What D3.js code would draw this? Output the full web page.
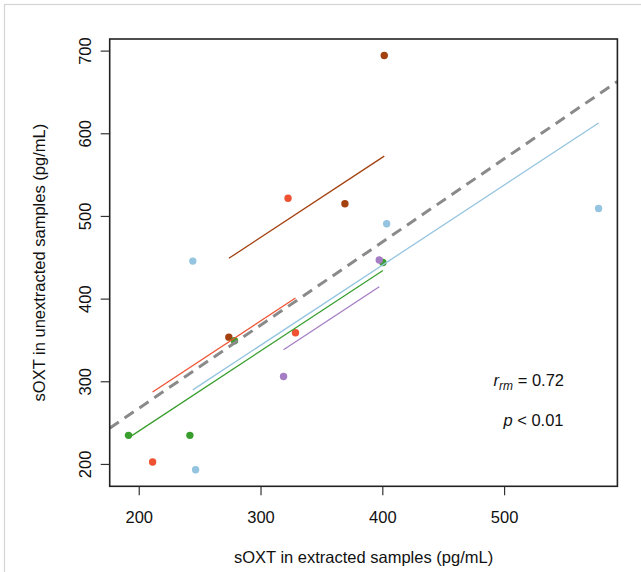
<!DOCTYPE html>
<html>
<head>
<meta charset="utf-8">
<script src="https://cdn.jsdelivr.net/npm/d3@7"></script>
<style>
  body { margin: 0; background: #fff; }
  svg { display: block; font-family: "Liberation Sans", Arial, sans-serif; }
</style>
</head>
<body>
<svg id="chart" width="641" height="572"></svg>
<script>
// one entry per sample: which subject, extracted value, unextracted value
var subject     = ["A", "A", "A", "B", "B", "B", "C", "C", "C", "C", "D", "D", "D", "D", "E", "E"];
var extracted   = [401.6, 369.3, 274.0, 322.6, 328.7, 211.4, 244.4, 246.7, 403.6, 577.6, 191.6, 242.0, 278.6, 400.5, 318.9, 397.5];
var unextracted = [694.0, 514.8, 353.4, 521.4, 358.7, 202.3, 445.4, 193.0, 490.5, 509.0, 234.6, 234.6, 349.1, 443.6, 305.7, 446.7];

var subjectIds    = ["A", "B", "C", "D", "E"];
var subjectColors = ["#a3410f", "#ee5232", "#94c4df", "#3a9e2f", "#a47dc4"];

var xTicks = [200, 300, 400, 500];
var yTicks = [200, 300, 400, 500, 600, 700];

var rrmValue = "0.72";
var pText = "< 0.01";

var svg = d3.select("#chart");
var plotLeft = 109.7, plotRight = 617.4, plotTop = 39, plotBottom = 486.3;

var points = extracted.map(function(x, i) {
  return { s: subject[i], x: x, y: unextracted[i] };
});

// R-style axis range: data extent padded by 4% each side
function padded(ext) {
  var p = (ext[1] - ext[0]) * 0.04;
  return [ext[0] - p, ext[1] + p];
}

var x = d3.scaleLinear().domain(padded(d3.extent(extracted))).range([plotLeft, plotRight]);
var y = d3.scaleLinear().domain(padded(d3.extent(unextracted))).range([plotBottom, plotTop]);
var color = d3.scaleOrdinal().domain(subjectIds).range(subjectColors);

// outer light frame of the figure
svg.append("rect")
  .attr("x", 4.5).attr("y", 4.5)
  .attr("width", 800).attr("height", 800)
  .attr("fill", "none")
  .attr("stroke", "#d4d4d4")
  .attr("stroke-width", 1.2);

svg.append("clipPath").attr("id", "plotclip")
  .append("rect")
  .attr("x", plotLeft).attr("y", plotTop)
  .attr("width", plotRight - plotLeft).attr("height", plotBottom - plotTop);

// repeated measures correlation: common slope, one line per subject
var groups = d3.groups(points, function(d) { return d.s; });
var sxy = 0, sxx = 0;
groups.forEach(function(g) {
  var mx = d3.mean(g[1], function(d) { return d.x; });
  var my = d3.mean(g[1], function(d) { return d.y; });
  g.mx = mx; g.my = my;
  g[1].forEach(function(d) {
    sxy += (d.x - mx) * (d.y - my);
    sxx += (d.x - mx) * (d.x - mx);
  });
});
var rmSlope = sxy / sxx;

var segs = groups.map(function(g) {
  var ext = d3.extent(g[1], function(d) { return d.x; });
  return {
    s: g[0],
    x1: ext[0], y1: g.my + rmSlope * (ext[0] - g.mx),
    x2: ext[1], y2: g.my + rmSlope * (ext[1] - g.mx)
  };
});

// pooled least squares line
var mxAll = d3.mean(points, function(d) { return d.x; });
var myAll = d3.mean(points, function(d) { return d.y; });
var b = d3.sum(points, function(d) { return (d.x - mxAll) * (d.y - myAll); }) /
        d3.sum(points, function(d) { return (d.x - mxAll) * (d.x - mxAll); });
var a = myAll - b * mxAll;

var plot = svg.append("g").attr("clip-path", "url(#plotclip)");

plot.selectAll("circle")
  .data(points)
  .enter().append("circle")
    .attr("cx", function(d) { return x(d.x); })
    .attr("cy", function(d) { return y(d.y); })
    .attr("r", 3.7)
    .attr("fill", function(d) { return color(d.s); });

plot.selectAll("line.rm")
  .data(segs)
  .enter().append("line")
    .attr("class", "rm")
    .attr("x1", function(d) { return x(d.x1); })
    .attr("y1", function(d) { return y(d.y1); })
    .attr("x2", function(d) { return x(d.x2); })
    .attr("y2", function(d) { return y(d.y2); })
    .attr("stroke", function(d) { return color(d.s); })
    .attr("stroke-width", 1.3);

var xd = x.domain();
plot.append("line")
  .attr("x1", x(xd[0])).attr("y1", y(a + b * xd[0]))
  .attr("x2", x(xd[1])).attr("y2", y(a + b * xd[1]))
  .attr("stroke", "#8a8a8a")
  .attr("stroke-width", 3)
  .attr("stroke-dasharray", "11,7");

// axes
var xAxis = svg.append("g")
  .attr("transform", "translate(0," + plotBottom + ")")
  .call(d3.axisBottom(x).tickValues(xTicks).tickSize(9).tickPadding(16).tickFormat(d3.format("d")));

var yAxis = svg.append("g")
  .attr("transform", "translate(" + plotLeft + ",0)")
  .call(d3.axisLeft(y).tickValues(yTicks).tickSize(9).tickFormat(d3.format("d")));

[xAxis, yAxis].forEach(function(ax) {
  ax.select(".domain").remove();
  ax.selectAll(".tick line").attr("stroke", "#333").attr("stroke-width", 1.2);
  ax.selectAll("text").attr("font-size", 16.5).attr("fill", "#111")
    .attr("font-family", "Liberation Sans, Arial, sans-serif");
});

yAxis.selectAll(".tick text")
  .attr("x", null).attr("dy", null)
  .attr("text-anchor", "middle")
  .attr("transform", "translate(-18.7,0) rotate(-90)");

// plot frame
svg.append("rect")
  .attr("x", plotLeft).attr("y", plotTop)
  .attr("width", plotRight - plotLeft).attr("height", plotBottom - plotTop)
  .attr("fill", "none")
  .attr("stroke", "#222")
  .attr("stroke-width", 1.6);

// axis titles
svg.append("text")
  .attr("x", (plotLeft + plotRight) / 2).attr("y", 563)
  .attr("text-anchor", "middle")
  .attr("font-size", 16.5).attr("fill", "#111")
  .text("sOXT in extracted samples (pg/mL)");

svg.append("text")
  .attr("transform", "translate(45," + (plotTop + plotBottom) / 2 + ") rotate(-90)")
  .attr("text-anchor", "middle")
  .attr("font-size", 16.5).attr("fill", "#111")
  .text("sOXT in unextracted samples (pg/mL)");

// statistics annotation
var rt = svg.append("text")
  .attr("x", 564).attr("y", 386)
  .attr("text-anchor", "end")
  .attr("font-size", 16.5).attr("fill", "#111");
rt.append("tspan").attr("font-style", "italic").text("r");
rt.append("tspan").attr("font-style", "italic").attr("font-size", 12).attr("dy", 3.5).text("rm");
rt.append("tspan").attr("dy", -3.5).text(" = " + rrmValue);

var pt = svg.append("text")
  .attr("x", 563.5).attr("y", 426)
  .attr("text-anchor", "end")
  .attr("font-size", 16.5).attr("fill", "#111");
pt.append("tspan").attr("font-style", "italic").text("p");
pt.append("tspan").text(" " + pText);
</script>
</body>
</html>
